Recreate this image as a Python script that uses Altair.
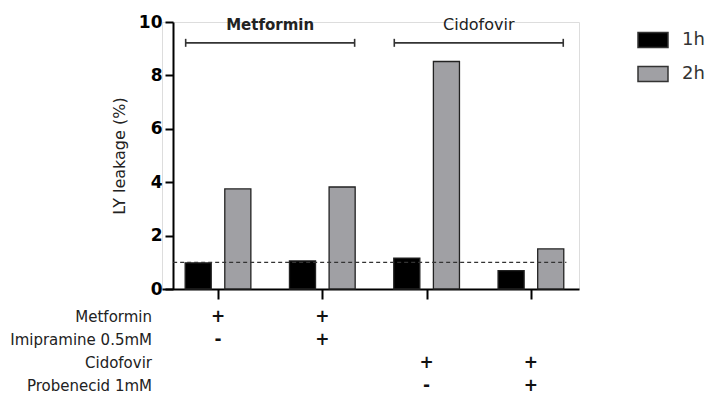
import altair as alt
import pandas as pd

# ---- data ----
groups = [0, 1, 2, 3]
leak_1h = [0.98, 1.05, 1.16, 0.69]
leak_2h = [3.75, 3.82, 8.52, 1.50]
series = ["1h", "2h"]
series_colors = ["#000000", "#a0a0a4"]

bracket_names = ["Metformin", "Cidofovir"]
bracket_bold = [True, False]
bracket_start = [0, 2]
bracket_end = [1, 3]

row_labels = ["Metformin", "Imipramine 0.5mM", "Cidofovir", "Probenecid 1mM"]
sign_row = ["Metformin", "Metformin", "Imipramine 0.5mM", "Imipramine 0.5mM",
            "Cidofovir", "Cidofovir", "Probenecid 1mM", "Probenecid 1mM"]
sign_group = [0, 1, 0, 1, 2, 3, 2, 3]
sign_text = ["+", "+", "-", "+", "+", "+", "-", "+"]

baseline_value = 1.0
y_ticks = [0, 2, 4, 6, 8, 10]

FONT = "DejaVu Sans"

bars_df = pd.DataFrame({
    "group": groups * 2,
    "series": ["1h"] * len(groups) + ["2h"] * len(groups),
    "value": leak_1h + leak_2h,
})
brackets_df = pd.DataFrame({"name": bracket_names, "bold": bracket_bold,
                            "start": bracket_start, "end": bracket_end})
rows_df = pd.DataFrame({"row": row_labels})
signs_df = pd.DataFrame({"row": sign_row, "group": sign_group, "sign": sign_text})
base_df = pd.DataFrame({"v": [baseline_value]})

xscale = alt.Scale(domain=[-0.537, 3.461], nice=False, zero=False)
yscale = alt.Scale(domain=[0, 10], nice=False, zero=True)

bars = alt.Chart(bars_df).transform_calculate(
    shift="datum.series == '1h' ? -0.19 : 0.19"
).transform_calculate(
    x0="datum.group + datum.shift - 0.125",
    x1="datum.group + datum.shift + 0.125",
).mark_bar(stroke="#222", strokeWidth=1.3).encode(
    x=alt.X("x0:Q", scale=xscale,
            axis=alt.Axis(values=groups, labels=False, title=None, grid=False,
                          tickSize=10, tickWidth=2, domainWidth=2,
                          domainColor="#000", tickColor="#000")),
    x2="x1:Q",
    y=alt.Y("value:Q", scale=yscale,
            axis=alt.Axis(values=y_ticks, title="LY leakage (%)", grid=False,
                          offset=-11, tickSize=8, tickWidth=2, domainWidth=2,
                          domainColor="#000", tickColor="#000",
                          labelFont=FONT, labelFontSize=17, labelFontWeight="bold",
                          labelColor="#000", labelPadding=3,
                          titleFont=FONT, titleFontSize=16, titleFontWeight=500,
                          titleColor="#222", titlePadding=11)),
    y2=alt.datum(0),
    color=alt.Color("series:N", scale=alt.Scale(domain=series, range=series_colors),
                    legend=alt.Legend(title=None, orient="none", legendX=475, legendY=2,
                                      symbolType="M-1,-0.5H1V0.5H-1Z", symbolSize=900,
                                      symbolStrokeColor="#333", symbolStrokeWidth=1.5,
                                      labelFont=FONT, labelFontSize=18, labelColor="#333",
                                      labelOffset=13, rowPadding=7)),
)

dashed = alt.Chart(base_df).mark_rule(color="#333", strokeWidth=1.3, strokeDash=[4, 3]).encode(
    x=alt.datum(-0.43), x2=alt.datum(3.34), y=alt.Y("v:Q")
)

bracket_base = alt.Chart(brackets_df).transform_calculate(
    xs="datum.start - 0.31", xe="datum.end + 0.31", mid="(datum.start + datum.end) / 2"
)
bracket_line = bracket_base.mark_rule(color="#333", strokeWidth=1.6).encode(
    x="xs:Q", x2="xe:Q", y=alt.datum(9.22)
)
bracket_caps = bracket_base.transform_fold(["xs", "xe"], as_=["end_name", "xpos"]).mark_rule(
    color="#333", strokeWidth=1.6).encode(
    x="xpos:Q", y=alt.datum(9.07), y2=alt.datum(9.37)
)
bracket_text_bold = bracket_base.transform_filter("datum.bold").mark_text(
    font=FONT, fontSize=15, fontWeight="bold", color="#222", baseline="middle").encode(
    x="mid:Q", y=alt.datum(9.89), text="name:N")
bracket_text_norm = bracket_base.transform_filter("!datum.bold").mark_text(
    font=FONT, fontSize=16, fontWeight="normal", color="#222", baseline="middle").encode(
    x="mid:Q", y=alt.datum(9.89), text="name:N")

main = alt.layer(bars, dashed, bracket_line, bracket_caps, bracket_text_bold, bracket_text_norm)

row_scale = alt.Scale(domain=row_labels, range=[295, 364], padding=0)
row_text = alt.Chart(rows_df).mark_text(
    font=FONT, fontSize=15, color="#222", align="right", baseline="middle").encode(
    x=alt.value(-10),
    y=alt.Y("row:N", scale=row_scale, axis=None),
    text="row:N",
)
sign_marks = alt.Chart(signs_df).mark_text(
    font=FONT, fontSize=17, fontWeight="bold", color="#111", baseline="middle").encode(
    x=alt.X("group:Q"),
    y=alt.Y("row:N", scale=row_scale, axis=None),
    text="sign:N",
)
annot = alt.layer(row_text, sign_marks)

chart = alt.layer(main, annot).resolve_scale(y="independent").properties(
    width=417, height=267,
    padding={"left": 162, "top": 22, "right": 132, "bottom": 109},
    autosize=alt.AutoSizeParams(type="none"),
).configure_view(stroke=None).configure(background="white")

chart.save("out.html", embed_options={"renderer": "svg", "actions": False})
